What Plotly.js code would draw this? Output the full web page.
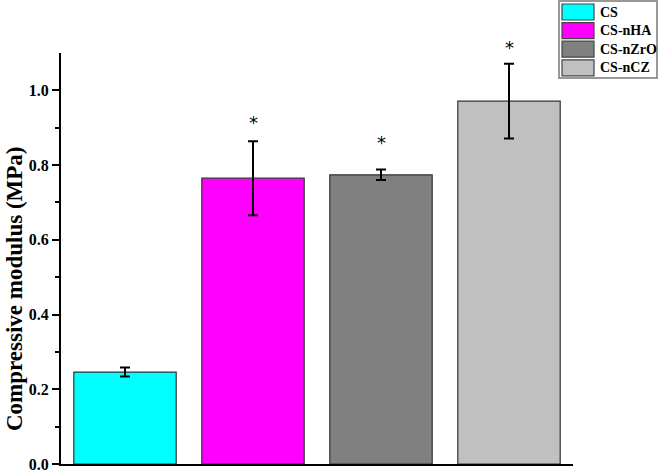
<!DOCTYPE html>
<html>
<head>
<meta charset="utf-8">
<script src="https://cdn.plot.ly/plotly-3.0.1.min.js"></script>
<style>
html, body { margin: 0; padding: 0; background: #fff; }
#plot { width: 660px; height: 473px; }
</style>
</head>
<body>
<div id="plot"></div>
<script>
// data
const groups = ['CS', 'CS-nHA', 'CS-nZrO', 'CS-nCZ']
const modulus = [0.246, 0.765, 0.774, 0.971]
const modulusErr = [0.012, 0.099, 0.014, 0.1]
const starLabels = ['', '*', '*', '*']
const starY = [null, 0.915, 0.861, 1.115]
const yTicks = [0, 0.2, 0.4, 0.6, 0.8, 1.0]
const yMinorTicks = [0.1, 0.3, 0.5, 0.7, 0.9]

const colors = ['#00FFFF', '#FF00FF', '#808080', '#C0C0C0']
const serif = 'Liberation Serif, Times New Roman, serif'
const yRange = [0, 1.1]

// plot area in pixels
const W = 660, H = 473
const m = {l: 61, r: 87, t: 53, b: 9}
const px2x = (px) => (px - m.l) / (W - m.l - m.r)
const py2y = (py) => (H - m.b - py) / (H - m.t - m.b)

const bars = {
  type: 'bar',
  x: groups,
  y: modulus,
  width: 0.8,
  marker: {color: colors, line: {color: '#333', width: 1.2}},
  error_y: {type: 'data', array: modulusErr, visible: true, color: '#000', thickness: 2, width: 5},
  showlegend: false,
  hoverinfo: 'x+y'
}

const shapes = []
const annotations = []

// significance stars; the last one is above the axis top, so place them on the y domain
groups.forEach((g, i) => {
  if (!starLabels[i]) return
  annotations.push({xref: 'x', yref: 'y domain', x: g, y: (starY[i] - yRange[0]) / (yRange[1] - yRange[0]),
    yanchor: 'middle', text: starLabels[i], showarrow: false,
    font: {family: 'DejaVu Sans, sans-serif', size: 18, color: '#000'}})
})

// hand-built legend box, top right
shapes.push({type: 'rect', xref: 'paper', yref: 'paper',
  x0: px2x(559), x1: px2x(657), y0: py2y(78), y1: py2y(1),
  line: {color: '#777', width: 1.5}, fillcolor: 'rgba(0,0,0,0)'})
groups.forEach((g, i) => {
  const top = 4 + i * 18.6
  shapes.push({type: 'rect', xref: 'paper', yref: 'paper',
    x0: px2x(562), x1: px2x(594), y0: py2y(top + 16), y1: py2y(top),
    line: {color: '#444', width: 1.2}, fillcolor: colors[i]})
  annotations.push({xref: 'paper', yref: 'paper', x: px2x(598), y: py2y(top + 8),
    xanchor: 'left', yanchor: 'middle', text: '<b>' + g + '</b>', showarrow: false,
    font: {family: serif, size: 14, color: '#000'}})
})

// y title sits a bit below the plot centre in the original
annotations.push({xref: 'paper', yref: 'paper', x: px2x(14), y: py2y(289),
  xanchor: 'center', yanchor: 'middle', textangle: -90, showarrow: false,
  text: '<b>Compressive modulus (MPa)</b>', font: {family: serif, size: 23, color: '#000'}})

const layout = {
  width: W,
  height: H,
  margin: m,
  paper_bgcolor: '#fff',
  plot_bgcolor: '#fff',
  xaxis: {
    range: [-0.5, 3.5],
    showticklabels: false,
    ticks: '',
    showgrid: false,
    zeroline: false,
    showline: true,
    linecolor: '#000',
    linewidth: 2
  },
  yaxis: {
    range: yRange,
    tickmode: 'array',
    tickvals: yTicks,
    ticktext: yTicks.map(v => '<b>' + v.toFixed(1) + '</b>'),
    ticklabeloverflow: 'allow',
    ticks: 'outside',
    ticklen: 7,
    tickwidth: 2,
    tickcolor: '#000',
    minor: {tickmode: 'array', tickvals: yMinorTicks, ticks: 'outside', ticklen: 4, tickwidth: 2, tickcolor: '#000'},
    showgrid: false,
    zeroline: false,
    showline: true,
    linecolor: '#000',
    linewidth: 2,
    tickfont: {family: serif, size: 16, color: '#000'}
  },
  shapes: shapes,
  annotations: annotations
}

Plotly.newPlot('plot', [bars], layout, {displayModeBar: false, staticPlot: true})
</script>
</body>
</html>
